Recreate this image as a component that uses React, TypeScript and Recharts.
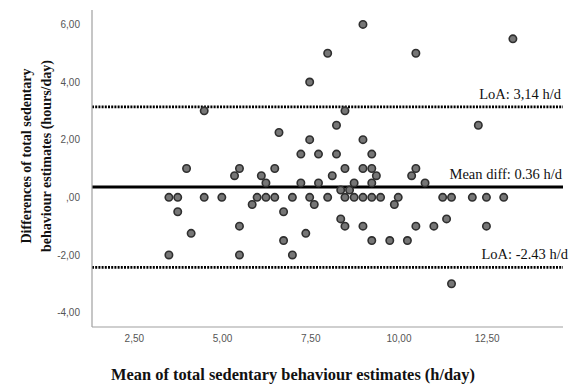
import React from 'react';
import {
  ScatterChart, Scatter, XAxis, YAxis, ReferenceLine,
} from 'recharts';

// Bland-Altman: mean of the two estimates (h/day) vs. their difference (h/day)
const MEANS = [
  8.98, 7.98, 10.48, 13.23, 7.47, 4.48, 8.47, 8.23, 12.25, 6.6,
  7.47, 8.98, 7.22, 7.72, 8.23, 9.23, 3.98, 5.48, 6.48, 8.47,
  8.98, 9.23, 10.48, 5.34, 6.1, 8.11, 9.36, 10.36, 6.23, 7.22,
  7.72, 8.73, 9.23, 10.74, 8.35, 8.6,
  3.48, 3.73, 4.48, 4.98, 5.98, 6.23, 6.48, 6.98, 7.47, 7.98,
  8.47, 8.73, 8.98, 9.23, 9.48, 9.98, 11.24, 11.49, 12.08, 12.48, 12.97,
  5.84, 7.6, 9.87, 3.73, 6.73, 8.35, 11.35,
  5.48, 8.47, 8.98, 10.48, 10.99, 12.48, 4.11, 7.36,
  6.73, 9.23, 9.74, 10.24, 3.48, 5.48, 6.98, 11.49,
];
const DIFFS = [
  6, 5, 5, 5.5, 4, 3, 3, 2.5, 2.5, 2.25,
  2, 2, 1.5, 1.5, 1.5, 1.5, 1, 1, 1, 1,
  1, 1, 1, 0.75, 0.75, 0.75, 0.75, 0.75, 0.5, 0.5,
  0.5, 0.5, 0.5, 0.5, 0.25, 0.25,
  0, 0, 0, 0, 0, 0, 0, 0, 0, 0,
  0, 0, 0, 0, 0, 0, 0, 0, 0, 0, 0,
  -0.25, -0.25, -0.25, -0.5, -0.5, -0.75, -0.75,
  -1, -1, -1, -1, -1, -1, -1.25, -1.25,
  -1.5, -1.5, -1.5, -1.5, -2, -2, -2, -3,
];

const MEAN_DIFF = 0.36;
const LOA_UPPER = 3.14;
const LOA_LOWER = -2.43;

const X_TICKS = [2.5, 5, 7.5, 10, 12.5];
const Y_TICKS = [-4, -2, 0, 2, 4, 6];

const points = MEANS.map((m, i) => ({ mean: m, diff: DIFFS[i] }));

const fmt = (v: number) => (v === 0 ? ',00' : v.toFixed(2).replace('.', ','));

const SERIF = '"Liberation Serif", "Times New Roman", serif';
const SANS = '"Liberation Sans", Arial, sans-serif';

const refLabel = (text: string, dx: number, dy: number) => (props: any) => {
  const vb = props.viewBox || {};
  return (
    <text
      x={vb.x + vb.width + dx}
      y={vb.y + dy}
      textAnchor="end"
      fontFamily={SERIF}
      fontSize={14.5}
      fill="#111"
    >
      {text}
    </text>
  );
};

const Dot = (p: any) => (
  <circle cx={p.cx} cy={p.cy} r={3.7} fill="#767676" stroke="#2f2f2f" strokeWidth={1.6} />
);

const yTitle = () => (
  <g fontFamily={SERIF} fontWeight="bold" fontSize={14} fill="#111">
    <text transform="translate(31,156) rotate(-90)" textAnchor="middle">
      Differences of total sedentary
    </text>
    <text transform="translate(51,156) rotate(-90)" textAnchor="middle">
      behaviour estimates (hours/day)
    </text>
  </g>
);

const App: React.FC = () => {
  return (
    <div style={{ position: 'absolute', left: 0, top: 0, width: 573, height: 384, background: '#fff' }}>
      <ScatterChart width={573} height={384} margin={{ top: 10, right: 10, bottom: 27, left: 0 }}>
        <XAxis
          type="number"
          dataKey="mean"
          domain={[1.3, 14.65]}
          ticks={X_TICKS}
          tickFormatter={fmt}
          tickLine={false}
          axisLine={{ stroke: '#a0a0a0', strokeWidth: 1.2 }}
          tick={{ fontSize: 10, fill: '#555', fontFamily: SANS }}
          allowDataOverflow
        />
        <YAxis
          type="number"
          dataKey="diff"
          width={92}
          domain={[-4.5, 6.5]}
          ticks={Y_TICKS}
          tickFormatter={fmt}
          tickLine={false}
          tickMargin={6}
          axisLine={{ stroke: '#a0a0a0', strokeWidth: 1.2 }}
          tick={{ fontSize: 10, fill: '#555', fontFamily: SANS }}
          label={{ content: yTitle }}
          allowDataOverflow
        />
        <ReferenceLine
          y={LOA_UPPER}
          stroke="#000"
          strokeWidth={2.6}
          strokeDasharray="2 1.2"
          label={{ content: refLabel('LoA: 3,14 h/d', -2, -8) }}
        />
        <ReferenceLine
          y={MEAN_DIFF}
          stroke="#000"
          strokeWidth={3}
          label={{ content: refLabel('Mean diff: 0.36  h/d', -1, -8) }}
        />
        <ReferenceLine
          y={LOA_LOWER}
          stroke="#000"
          strokeWidth={2.6}
          strokeDasharray="2 1.2"
          label={{ content: refLabel('LoA: -2.43 h/d', 5, -8) }}
        />
        <Scatter data={points} shape={Dot} isAnimationActive={false} />
        <text
          x={293}
          y={380}
          textAnchor="middle"
          fontFamily={SERIF}
          fontWeight="bold"
          fontSize={16.4}
          fill="#111"
        >
          Mean of total sedentary behaviour estimates (h/day)
        </text>
      </ScatterChart>
    </div>
  );
};

export default App;
